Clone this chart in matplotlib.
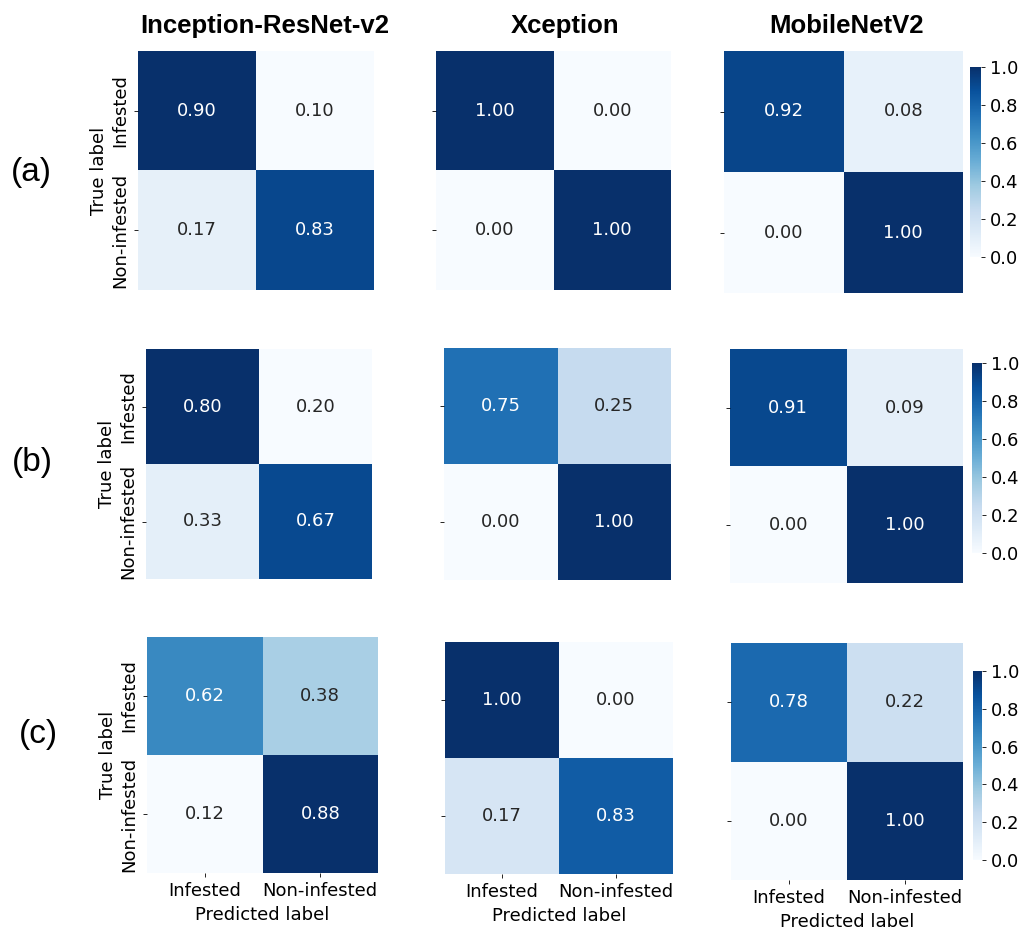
import numpy as np
import matplotlib
matplotlib.use("Agg")
import matplotlib.pyplot as plt
import seaborn as sns

models = ["Inception-ResNet-v2", "Xception", "MobileNetV2"]
row_tags = ["(a)", "(b)", "(c)"]
class_names = ["Infested", "Non-infested"]

# normalised confusion matrices, one list per row (a), (b), (c)
cm_a = [[[0.90, 0.10], [0.17, 0.83]],
        [[1.00, 0.00], [0.00, 1.00]],
        [[0.92, 0.08], [0.00, 1.00]]]
cm_b = [[[0.80, 0.20], [0.33, 0.67]],
        [[0.75, 0.25], [0.00, 1.00]],
        [[0.91, 0.09], [0.00, 1.00]]]
cm_c = [[[0.62, 0.38], [0.12, 0.88]],
        [[1.00, 0.00], [0.17, 0.83]],
        [[0.78, 0.22], [0.00, 1.00]]]
all_cms = [cm_a, cm_b, cm_c]

# colour limits that differ from the data min/max in the original figure
clim_override = {(1, 0): (0.29, 0.71)}

W, H = 1021, 933
fig = plt.figure(figsize=(W / 100, H / 100), dpi=100)

def rect(x0, y0, x1, y1):
    return [x0 / W, 1 - y1 / H, (x1 - x0) / W, (y1 - y0) / H]

# pixel boxes of each heatmap (x0, y0, x1, y1)
boxes = [
    [(138, 51, 374, 290), (436, 51, 671, 290), (724, 51, 963, 293)],
    [(146, 349, 372, 579), (444, 348, 671, 580), (730, 349, 963, 583)],
    [(147, 637, 378, 873), (445, 642, 673, 874), (731, 643, 963, 880)],
]
cbar_boxes = [(970, 67, 981, 257), (972, 363, 982, 553), (973, 671, 982, 860)]
tag_pos = [(31, 172), (32, 463), (38, 735)]

for r in range(3):
    for c in range(3):
        ax = fig.add_axes(rect(*boxes[r][c]))
        data = np.array(all_cms[r][c])
        vmin, vmax = clim_override.get((r, c), (None, None))
        show_cbar = c == 2
        cax = fig.add_axes(rect(*cbar_boxes[r])) if show_cbar else None
        sns.heatmap(data, ax=ax, cmap="Blues", annot=True, fmt=".2f",
                    vmin=vmin, vmax=vmax,
                    annot_kws={"fontsize": 13},
                    cbar=show_cbar, cbar_ax=cax,
                    xticklabels=class_names, yticklabels=class_names)
        ax.tick_params(axis="both", labelsize=13, length=3, width=0.6)
        if c == 0:
            ax.set_yticklabels(class_names, rotation=90, va="center")
            ax.set_ylabel("True label", fontsize=13, labelpad=2)
        else:
            ax.set_yticklabels([])
        if r == 2:
            ax.set_xticklabels(class_names, rotation=0)
            ax.set_xlabel("Predicted label", fontsize=13)
        else:
            ax.set_xticklabels([])
            ax.tick_params(axis="x", length=0)
        if show_cbar:
            cax.set_yticks([0.0, 0.2, 0.4, 0.6, 0.8, 1.0])
            cax.tick_params(labelsize=13, length=3, width=0.6)

# column titles
title_x = [265, 565, 846]
for name, tx in zip(models, title_x):
    fig.text(tx / W, 1 - 26 / H, name, ha="center", va="center",
             fontsize=18.5, fontweight="bold", family="Liberation Sans")

for tag, (tx, ty) in zip(row_tags, tag_pos):
    fig.text(tx / W, 1 - ty / H, tag, ha="center", va="center",
             fontsize=24, family="Liberation Sans")

plt.savefig("out.png", dpi=100)
